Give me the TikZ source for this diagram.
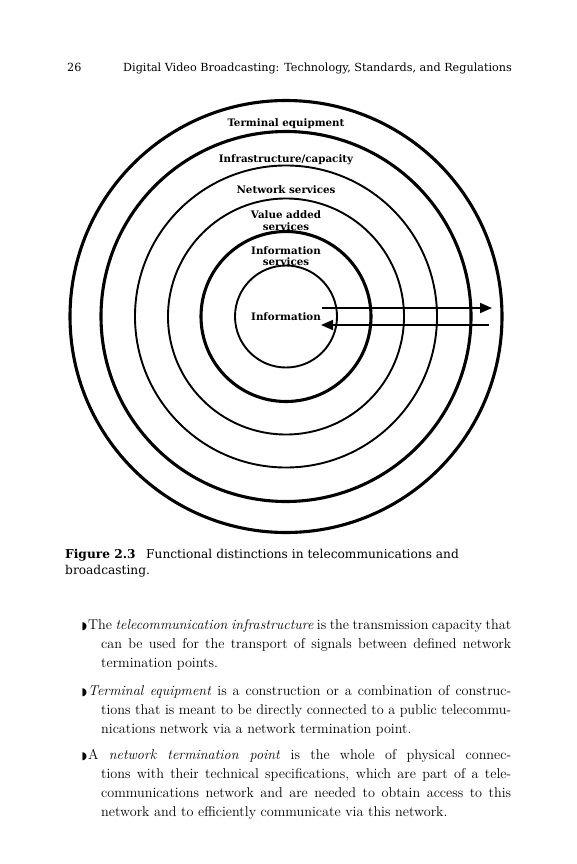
\documentclass[tikz,border=0pt]{standalone}
\usepackage{fontspec}
\newfontfamily\slab{DejaVu Serif}
\newfontfamily\bulfont{DejaVu Sans}
\usetikzlibrary{arrows.meta}
\newcommand{\bul}{{\bulfont\fontsize{10.5}{10}\selectfont ◗}}
\begin{document}
\begin{tikzpicture}[x=1pt,y=-1pt,
  thinring/.style={draw=black, line width=1.9pt, circle, inner sep=0pt},
  thickring/.style={draw=black, line width=3.1pt, circle, inner sep=0pt},
  ringlabel/.style={font=\slab\bfseries\fontsize{10.3}{11}\selectfont, inner sep=0pt, anchor=base},
  flow/.style={line width=1.8pt, -{Triangle[length=12pt,width=10pt]}},
  hdr/.style={font=\slab\fontsize{11.2}{13}\selectfont, inner sep=0pt, anchor=base west},
  captext/.style={font=\slab\fontsize{12.2}{15}\selectfont, inner sep=0pt, anchor=base west},
  bodytext/.style={inner sep=0pt, anchor=base west}
]
\useasboundingbox (0,0) rectangle (576,864);
\fill[white] (0,0) rectangle (576,864);

% header
\node[hdr] (pagenum) at (67,72) {26};
\node[hdr] (runhead) at (123,72) {Digital Video Broadcasting: Technology, Standards, and Regulations};

% rings
\coordinate (O) at (286,316.5);
\node[thinring,  minimum size=102pt] (r1) at (O) {};
\node[thickring, minimum size=170pt] (r2) at (O) {};
\node[thinring,  minimum size=236pt] (r3) at (O) {};
\node[thinring,  minimum size=302pt] (r4) at (O) {};
\node[thickring, minimum size=370pt] (r5) at (O) {};
\node[thickring, minimum size=432pt] (r6) at (O) {};

% ring labels
\node[ringlabel] (lterm) at (286,127) {Terminal equipment};
\node[ringlabel] (linfra) at (286,162) {Infrastructure/capacity};
\node[ringlabel] (lnet) at (286,193) {Network services};
\node[ringlabel] (lva1) at (286,218) {Value added};
\node[ringlabel] (lva2) at (286,230) {services};
\node[ringlabel] (lis1) at (286,254) {Information};
\node[ringlabel] (lis2) at (286,265) {services};
\node[ringlabel] (linfo) at (286,320) {Information};

% arrows
\coordinate (outS) at (322,308);
\coordinate (outE) at (492,308);
\coordinate (inS) at (489,325);
\coordinate (inE) at (321,325);
\draw[flow] (outS) -- (outE);
\draw[flow] (inS) -- (inE);

% caption
\node[captext] (cap1) at (65,558) {\makebox[81pt][l]{\bfseries Figure 2.3}Functional distinctions in telecommunications and};
\node[captext] (cap2) at (65,574) {broadcasting.};

% body
\node[bodytext] (b1) at (88,629) {\parbox[t]{423pt}{\fontsize{14.2}{19}\selectfont
\makebox[423pt][s]{\llap{\bul\hspace{1pt}}The \emph{telecommunication infrastructure} is the transmission capacity that}\\
\hspace*{13pt}\makebox[410pt][s]{can be used for the transport of signals between defined network}\\
\hspace*{13pt}termination points.}};

\node[bodytext] (b2) at (88,695) {\parbox[t]{423pt}{\fontsize{14.2}{19}\selectfont
\makebox[423pt][s]{\llap{\bul\hspace{1pt}}\emph{Terminal equipment} is a construction or a combination of construc-}\\
\hspace*{13pt}\makebox[410pt][s]{tions that is meant to be directly connected to a public telecommu-}\\
\hspace*{13pt}nications network via a network termination point.}};

\node[bodytext] (b3) at (88,759) {\parbox[t]{423pt}{\fontsize{14.2}{19}\selectfont
\makebox[423pt][s]{\llap{\bul\hspace{1pt}}A \emph{network termination point} is the whole of physical connec-}\\
\hspace*{13pt}\makebox[410pt][s]{tions with their technical specifications, which are part of a tele-}\\
\hspace*{13pt}\makebox[410pt][s]{communications network and are needed to obtain access to this}\\
\hspace*{13pt}network and to efficiently communicate via this network.}};
\end{tikzpicture}
\end{document}
